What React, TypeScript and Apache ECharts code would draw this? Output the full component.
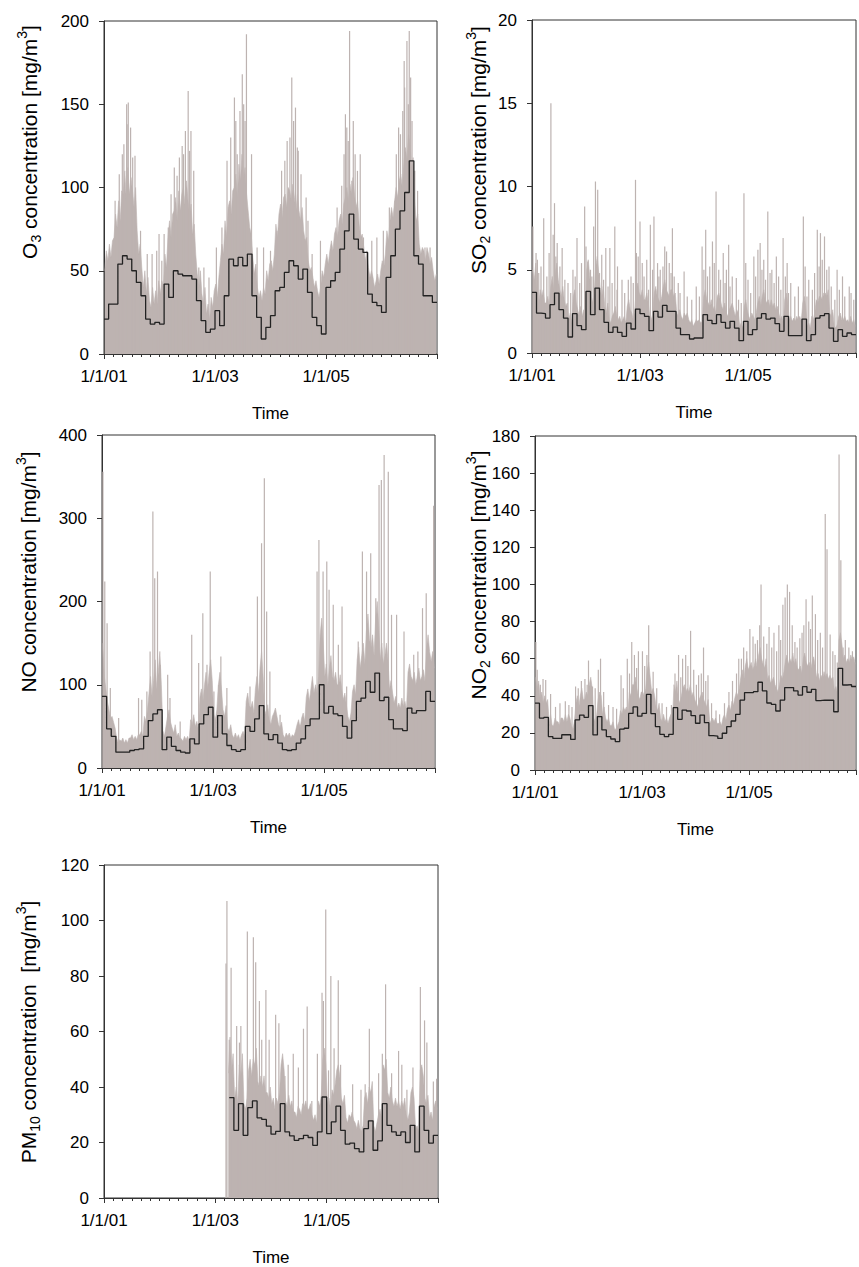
import React, { useEffect, useRef } from 'react';
import * as echarts from 'echarts';

const FONT = 'Liberation Sans';
const GREY = '#bdb3b1';
const LINE = '#222222';
const AXIS = '#333333';

// x axis: months since 1/1/01 (0..72)
const xTickMonths = [0, 24, 48];
const xTickLabels = ['1/1/01', '1/1/03', '1/1/05'];
const xMonthsSpan = 72;

// ---------- O3 ----------
const o3Monthly = [
  21, 30, 30, 54, 59, 57, 50, 43, 35, 21, 18, 19,
  18, 42, 34, 50, 48, 47, 47, 45, 32, 20, 13, 15,
  26, 17, 35, 57, 53, 58, 53, 60, 35, 22, 9, 16,
  23, 38, 40, 49, 56, 53, 45, 51, 37, 22, 17, 12,
  40, 44, 49, 63, 74, 84, 69, 63, 61, 36, 31, 29,
  25, 46, 59, 75, 86, 97, 116, 59, 54, 35, 35, 31,
];
const o3Dekad = [
  50, 62, 56, 66, 58, 68, 70, 84, 76, 92, 80, 98, 96, 110, 92, 112, 96, 106, 98, 88, 100, 74, 60, 66, 52, 40, 50, 36, 46, 32, 28, 40, 30, 38, 30, 44,
  36, 44, 40, 60, 52, 70, 80, 70, 84, 86, 94, 80, 98, 86, 96, 100, 90, 104, 92, 84, 90, 72, 78, 60, 48, 40, 50, 36, 30, 40, 24, 30, 20, 34, 28, 38,
  42, 34, 46, 56, 66, 60, 80, 70, 88, 92, 84, 98, 100, 108, 94, 114, 104, 120, 106, 112, 96, 86, 76, 72, 58, 48, 54, 40, 34, 38, 32, 40, 36, 50, 44, 54,
  56, 50, 60, 78, 70, 84, 90, 82, 94, 96, 88, 100, 98, 92, 102, 94, 86, 96, 86, 80, 88, 74, 68, 70, 56, 50, 52, 46, 40, 44, 38, 34, 40, 50, 46, 54,
  60, 54, 62, 68, 62, 72, 76, 70, 80, 84, 78, 90, 94, 100, 92, 102, 96, 106, 96, 88, 92, 78, 70, 72, 64, 56, 62, 52, 46, 50, 46, 40, 44, 48, 42, 50,
  56, 52, 60, 74, 68, 80, 88, 82, 92, 100, 94, 104, 108, 100, 114, 124, 116, 132, 126, 112, 118, 92, 80, 84, 66, 60, 64, 62, 56, 64, 60, 54, 58, 50, 44, 48,
];
const o3Peaks = [
  [2.4, 92], [3.3, 108], [3.96, 120], [4.3, 126], [4.9, 150], [5.0, 138], [5.25, 151], [5.75, 136], [6.2, 118], [6.7, 119], [7.9, 74], [9.35, 60], [10.4, 60], [11.4, 62], [11.9, 72],
  [12.5, 56], [13.0, 72], [13.9, 76], [14.5, 96], [15.2, 112], [15.8, 107], [16.3, 118], [16.9, 125], [17.2, 120], [17.6, 134], [18.2, 158], [18.5, 122], [18.8, 134], [19.4, 110], [20.5, 52], [21.6, 52], [22.7, 46],
  [24.3, 64], [25.5, 76], [26.6, 116], [27.4, 130], [28.2, 154], [28.5, 140], [28.8, 120], [29.4, 146], [29.9, 168], [30.2, 150], [30.5, 140], [30.8, 192], [31.9, 120], [33.1, 64], [34.5, 64], [36.0, 62],
  [37.4, 74], [38.4, 110], [39.1, 116], [39.6, 128], [40.2, 130], [40.6, 166], [41.0, 140], [41.4, 148], [41.8, 124], [42.0, 122], [42.6, 108], [43.7, 94], [44.1, 80], [45.0, 60], [46.8, 68],
  [50.4, 88], [51.4, 101], [51.9, 120], [52.2, 144], [52.5, 136], [52.8, 128], [53.1, 194], [53.6, 104], [53.9, 140], [54.3, 120], [54.8, 110], [55.4, 120], [56.1, 70], [57.9, 68], [59.0, 70],
  [60.4, 74], [61.7, 88], [62.9, 92], [63.2, 120], [63.7, 136], [64.1, 132], [64.6, 146], [64.9, 176], [65.0, 160], [65.5, 188], [65.8, 150], [66.0, 194], [66.3, 166], [66.6, 140], [67.2, 110], [67.8, 98], [69.4, 64], [70.5, 64],
];

// ---------- SO2 ----------
const so2Monthly = [
  3.64, 2.4, 2.36, 2.1, 2.9, 3.6, 2.6, 2.1, 0.96, 2.36, 1.64, 1.4,
  3.7, 2.3, 3.9, 2.6, 1.84, 1.24, 1.56, 1.24, 1.0, 1.8, 1.44, 2.64,
  2.36, 2.2, 1.34, 2.5, 2.16, 2.86, 2.5, 2.5, 1.5, 1.1, 1.1, 0.84,
  0.9, 0.9, 2.3, 1.96, 1.76, 2.3, 1.84, 1.5, 1.9, 1.5, 0.74, 1.9,
  1.1, 1.4, 2.1, 2.36, 2.04, 2.1, 1.76, 1.3, 2.2, 1.04, 1.04, 1.04,
  2.04, 0.74, 1.1, 2.1, 2.24, 2.36, 1.5, 0.7, 1.4, 1.0, 1.2, 1.1,
];
const so2Dekad = [
  5.0, 4.4, 5.4, 3.6, 3.0, 3.8, 3.4, 3.8, 3.0, 3.0, 3.4, 2.8, 4.0, 4.6, 3.8, 4.8, 5.4, 4.4, 3.8, 3.4, 4.0, 3.2, 2.8, 3.0, 2.0, 2.4, 1.8, 3.4, 3.8, 3.0, 2.6, 2.2, 2.8, 2.2, 2.6, 2.0,
  5.0, 5.6, 4.6, 3.4, 3.0, 3.6, 5.2, 5.8, 4.8, 3.8, 3.4, 4.0, 2.8, 2.4, 3.0, 2.0, 1.8, 2.2, 2.4, 2.8, 2.2, 2.0, 2.2, 1.8, 2.0, 2.2, 1.8, 2.8, 3.2, 2.6, 2.4, 2.0, 2.6, 3.8, 4.2, 3.6,
  3.4, 3.8, 3.2, 3.2, 3.6, 3.0, 2.2, 2.0, 2.4, 3.6, 4.0, 3.4, 3.2, 3.0, 3.4, 4.0, 4.4, 3.8, 3.6, 3.4, 3.8, 3.8, 3.4, 3.6, 2.4, 2.2, 2.6, 2.2, 2.0, 2.4, 2.2, 2.4, 2.0, 1.8, 2.0, 1.6,
  1.8, 2.0, 1.9, 2.0, 1.8, 1.9, 3.4, 3.8, 3.2, 3.0, 2.8, 3.2, 2.6, 2.8, 2.4, 3.4, 3.6, 3.2, 2.8, 2.6, 3.0, 2.4, 2.2, 2.6, 2.8, 3.0, 2.6, 2.2, 2.6, 2.4, 1.6, 1.8, 1.5, 2.8, 3.2, 2.6,
  2.2, 2.0, 2.4, 2.2, 2.0, 2.4, 3.0, 3.4, 2.8, 3.4, 3.8, 3.2, 3.0, 3.2, 2.8, 3.2, 2.8, 3.0, 2.6, 2.8, 2.4, 2.0, 2.2, 1.8, 3.2, 3.6, 3.0, 2.0, 2.2, 1.9, 2.1, 1.9, 2.2, 2.0, 2.2, 1.9,
  3.0, 3.4, 2.8, 1.6, 1.8, 1.5, 2.2, 2.0, 2.4, 3.2, 3.0, 3.4, 3.4, 3.2, 3.6, 3.6, 3.4, 3.8, 2.4, 2.2, 2.6, 1.6, 1.5, 1.7, 2.2, 2.4, 2.0, 2.0, 2.2, 1.9, 2.0, 1.8, 2.2, 1.8, 2.0, 1.6,
];
const so2Peaks = [
  [0.2, 7.6], [0.9, 6.0], [1.2, 5.6], [1.5, 4.8], [2.0, 5.2], [2.6, 8.1], [3.3, 4.6], [3.8, 6.0], [4.2, 15.0], [4.7, 7.1], [5.0, 9.0], [5.3, 5.8], [5.6, 6.6], [6.2, 5.2], [6.7, 6.3], [7.3, 4.4],
  [8.0, 4.2], [8.6, 3.6], [9.1, 5.0], [9.6, 4.6], [10.0, 6.9], [10.6, 4.2], [11.0, 5.4], [11.7, 8.8],
  [12.0, 6.4], [12.4, 5.5], [13.0, 5.0], [13.3, 4.6], [13.7, 7.6], [14.1, 10.3], [14.6, 9.8], [15.0, 4.8], [15.5, 5.9], [15.9, 4.4], [16.4, 6.3], [16.9, 4.0], [17.3, 6.3], [17.8, 4.2],
  [18.4, 7.6], [18.9, 3.8], [19.0, 5.2], [20.0, 4.4], [20.6, 3.6], [21.4, 4.4], [22.0, 4.6], [22.5, 4.2], [23.0, 10.4], [23.2, 6.0], [23.6, 5.8],
  [24.0, 7.9], [24.5, 5.4], [24.9, 4.6], [25.5, 5.6], [25.9, 3.8], [26.3, 7.7], [26.8, 5.0], [27.1, 8.2], [27.9, 5.4], [28.2, 4.6], [28.5, 5.0], [29.1, 5.2], [29.5, 6.4], [29.9, 6.1],
  [30.5, 5.4], [30.9, 4.8], [31.2, 7.5], [31.6, 4.6], [32.5, 4.2], [32.9, 3.6], [33.8, 4.9], [34.5, 3.4], [35.5, 3.2],
  [36.5, 4.0], [37.2, 3.4], [37.8, 6.4], [38.2, 5.0], [38.6, 7.4], [39.0, 4.6], [39.5, 5.2], [40.1, 6.7], [40.5, 5.4], [40.9, 9.7], [41.5, 5.0], [41.9, 4.4], [42.5, 6.0], [42.9, 4.2],
  [43.2, 5.0], [43.7, 6.5], [44.0, 4.0], [44.5, 4.6], [45.4, 4.5], [45.9, 3.2], [46.5, 3.0], [47.1, 9.6], [47.5, 5.4],
  [48.0, 4.4], [48.6, 3.6], [49.3, 5.8], [49.7, 4.6], [50.2, 6.2], [50.7, 6.6], [51.1, 5.0], [51.5, 5.6], [51.9, 4.4], [52.4, 8.5], [52.9, 4.8], [53.3, 5.0], [53.8, 4.2],
  [54.3, 5.8], [54.8, 4.6], [55.3, 3.8], [55.8, 6.9], [56.3, 4.6], [56.7, 5.4], [57.0, 3.6], [57.5, 4.2], [58.4, 3.4], [59.2, 4.0],
  [60.3, 8.2], [60.7, 5.2], [61.1, 3.4], [61.5, 4.4], [62.3, 3.8], [62.8, 4.8], [63.4, 7.4], [63.8, 5.2], [64.1, 7.2], [64.5, 5.6], [65.0, 7.0], [65.5, 5.0], [66.0, 5.2], [66.5, 4.0],
  [67.3, 3.2], [67.8, 5.0], [68.3, 3.8], [69.0, 4.6], [69.5, 3.4], [70.5, 4.0], [70.9, 3.6], [71.5, 3.2],
];

// ---------- NO ----------
const noMonthly = [
  86, 47, 38, 19, 19, 19, 21, 22, 23, 38, 57, 65,
  70, 22, 37, 26, 21, 19, 18, 35, 29, 53, 64, 73,
  37, 63, 41, 27, 22, 20, 22, 50, 44, 59, 75, 41,
  34, 40, 30, 22, 21, 22, 30, 35, 51, 59, 59, 100,
  66, 74, 65, 63, 50, 36, 57, 80, 84, 104, 91, 114,
  81, 85, 58, 47, 47, 45, 72, 66, 69, 69, 92, 80,
];
const noDekad = [
  150, 110, 95, 80, 70, 60, 62, 55, 48, 36, 30, 34, 32, 36, 30, 34, 30, 36, 36, 40, 34, 38, 34, 40, 40, 44, 38, 62, 56, 70, 90, 110, 85, 105, 130, 95,
  115, 140, 100, 45, 38, 50, 62, 70, 55, 48, 42, 52, 38, 42, 36, 35, 32, 38, 34, 38, 32, 58, 52, 64, 50, 56, 46, 85, 95, 80, 100, 115, 95, 115, 130, 105,
  65, 58, 70, 100, 115, 95, 70, 62, 75, 48, 44, 52, 40, 36, 42, 36, 40, 34, 40, 44, 38, 80, 90, 75, 72, 80, 66, 95, 110, 90, 120, 140, 110, 70, 64, 76,
  58, 52, 62, 66, 72, 62, 52, 48, 55, 40, 36, 42, 38, 42, 36, 40, 38, 44, 52, 58, 48, 60, 66, 56, 85, 95, 80, 95, 110, 90, 100, 90, 110, 160, 180, 150,
  110, 125, 100, 120, 135, 110, 105, 115, 100, 100, 112, 95, 82, 90, 76, 62, 56, 66, 92, 100, 88, 130, 145, 120, 135, 150, 125, 165, 185, 155, 145, 160, 135, 180, 200, 170,
  130, 150, 125, 135, 150, 130, 95, 105, 90, 78, 86, 72, 78, 72, 84, 74, 80, 70, 115, 125, 110, 105, 115, 100, 110, 120, 105, 110, 118, 104, 145, 160, 140, 128, 140, 120,
];
const noPeaks = [
  [0.2, 356], [0.6, 224], [1.1, 174], [1.8, 96], [3.6, 60], [7.9, 84], [8.6, 82], [9.7, 92], [10.4, 140], [11.0, 308], [11.4, 228],
  [12.0, 236], [12.6, 124], [14.2, 112], [14.7, 84], [16.9, 56], [19.4, 160], [20.9, 126], [21.8, 186], [22.7, 124], [23.4, 236],
  [24.2, 92], [25.2, 100], [25.7, 134], [27.0, 96], [32.0, 98], [33.6, 206], [34.5, 270], [35.1, 348], [35.6, 188],
  [36.3, 116], [38.5, 64], [42.8, 52], [45.5, 68], [46.5, 236], [46.9, 274], [47.8, 236],
  [48.6, 248], [49.1, 214], [50.0, 196], [51.1, 148], [51.9, 194], [52.9, 98], [55.4, 152], [56.3, 260], [57.2, 236], [58.1, 258], [59.2, 204], [59.9, 340],
  [60.4, 346], [61.0, 376], [61.9, 356], [62.6, 184], [63.7, 184], [65.3, 164], [67.4, 136], [68.3, 140], [69.3, 192], [70.1, 210], [71.7, 315],
];

// ---------- NO2 ----------
const no2Monthly = [
  36, 28, 28.4, 18, 17, 17, 19, 19, 16.5, 27, 29.6, 28.4,
  34.7, 18.9, 28.8, 21.6, 18, 16.7, 15.3, 22, 22.5, 30.5, 34, 29,
  30.5, 40.8, 30.4, 23.4, 19.2, 18, 19.2, 33.6, 27.3, 32.3, 31.8, 29.3,
  25.2, 29.6, 25.5, 18.5, 18.3, 17, 19.8, 23.4, 26.4, 30, 37.7, 41.7,
  41.7, 42.2, 47.3, 42.6, 36.1, 35.4, 31.8, 37.7, 44.4, 44.4, 42.6, 40.4,
  44.9, 41.9, 43.5, 37.4, 37.7, 37.6, 37.6, 31.4, 54.8, 45.8, 46, 45,
];
const no2Dekad = [
  50, 44, 48, 38, 42, 36, 40, 36, 38, 26, 30, 24, 24, 28, 26, 26, 24, 28, 28, 26, 30, 26, 30, 28, 24, 22, 26, 36, 40, 34, 40, 44, 38, 38, 42, 40,
  46, 50, 44, 28, 26, 30, 38, 42, 40, 30, 34, 28, 26, 28, 24, 24, 26, 22, 22, 24, 26, 32, 30, 34, 32, 34, 30, 42, 40, 46, 46, 50, 44, 40, 38, 42,
  42, 40, 44, 54, 58, 50, 42, 44, 40, 34, 32, 36, 28, 26, 30, 26, 28, 25, 28, 30, 26, 46, 42, 48, 38, 36, 40, 44, 46, 42, 44, 42, 46, 40, 42, 38,
  36, 34, 38, 40, 42, 38, 36, 34, 38, 27, 25, 28, 26, 28, 25, 25, 26, 24, 28, 30, 27, 33, 35, 32, 37, 35, 39, 42, 40, 44, 50, 54, 48, 56, 60, 54,
  56, 58, 54, 56, 60, 55, 62, 66, 60, 57, 55, 60, 49, 51, 47, 48, 50, 46, 44, 42, 46, 51, 49, 53, 59, 62, 57, 60, 58, 63, 57, 60, 55, 54, 56, 52,
  60, 63, 58, 56, 58, 54, 58, 61, 56, 50, 52, 48, 51, 49, 53, 50, 52, 49, 51, 49, 50, 43, 45, 41, 70, 74, 68, 60, 62, 58, 60, 58, 62, 59, 61, 57,
];
const no2Peaks = [
  [0.2, 69], [0.5, 54], [1.2, 46], [1.8, 49], [2.4, 48.5], [3.5, 41], [4.6, 34], [5.6, 36], [6.8, 37], [7.6, 35], [8.3, 34], [9.1, 45], [9.7, 44], [10.4, 48], [11.2, 49], [11.7, 46],
  [12.0, 59], [12.9, 45], [13.5, 44], [14.2, 54], [14.7, 60], [15.4, 42], [16.5, 35], [17.5, 34], [18.3, 33], [19.3, 51], [19.8, 44], [20.7, 60], [21.2, 52], [21.7, 69], [22.3, 62], [22.8, 55], [23.2, 64],
  [24.1, 64], [24.6, 56], [25.1, 62], [25.5, 78], [26.5, 53], [27.3, 44], [28.5, 36], [29.5, 34], [30.6, 35], [31.4, 52], [32.2, 62], [32.7, 50], [33.1, 60], [33.8, 62], [34.3, 56], [34.9, 75], [35.6, 54],
  [36.2, 46], [36.7, 51], [37.3, 52], [37.8, 66], [38.3, 48], [38.8, 51], [39.6, 36], [40.6, 32], [41.4, 30], [42.5, 36], [43.5, 42], [44.3, 48], [45.2, 52], [45.7, 60], [46.3, 60], [46.8, 66], [47.5, 64],
  [48.2, 76], [48.9, 72], [49.4, 68], [49.9, 70], [50.4, 78], [50.7, 100], [51.3, 72], [52.0, 68], [52.5, 77], [53.1, 66], [53.6, 74], [54.2, 64], [54.7, 78], [55.1, 70], [55.6, 89], [56.1, 93], [56.6, 100],
  [57.1, 96], [57.7, 78], [58.3, 69], [58.8, 66], [59.4, 71], [59.9, 74],
  [60.3, 78], [60.8, 92], [61.4, 80], [61.8, 76], [62.2, 94], [62.9, 84], [63.4, 70], [64.0, 74], [64.5, 66], [65.1, 138], [65.5, 119], [66.2, 73], [66.8, 64], [67.3, 62], [67.8, 58],
  [68.2, 170], [68.6, 113], [69.1, 66], [69.6, 70], [70.4, 66], [71.2, 64],
];

// ---------- PM10 (measurements start spring 2003) ----------
const pm10MonthStart = 27;
const pm10Monthly = [
  36.2, 24.4, 34.0, 22.6, 32.6, 35.0, 28.9, 28.3, 25.9,
  23.0, 24.0, 34.0, 23.8, 22.4, 20.8, 21.4, 22.6, 21.8, 19.0, 23.8, 36.4,
  23.2, 27.4, 33.1, 24.4, 19.4, 19.8, 17.8, 16.6, 25.0, 27.8, 17.2, 20.6,
  34.0, 26.2, 23.8, 22.6, 23.8, 20.0, 26.2, 16.6, 33.1, 24.4, 19.8, 22.6,
];
const pm10DekadStart = 80;
const pm10Dekad = [
  45,
  58, 46, 52, 36, 40, 34, 48, 44, 52, 34, 32, 36, 46, 50, 44, 50, 48, 54, 42, 40, 44, 40, 44, 38, 38, 36, 40,
  34, 36, 32, 36, 34, 38, 48, 52, 46, 35, 33, 37, 33, 35, 31, 31, 29, 33, 32, 30, 34, 33, 35, 32, 32, 34, 30, 28, 30, 27, 35, 33, 37, 50, 54, 48,
  34, 36, 32, 39, 37, 41, 46, 48, 44, 36, 34, 37, 29, 27, 30, 29, 31, 28, 27, 25, 28, 25, 24, 26, 36, 38, 34, 40, 38, 42, 26, 24, 27, 30, 32, 29,
  48, 46, 50, 38, 36, 40, 35, 33, 36, 33, 35, 32, 35, 33, 36, 30, 28, 31, 38, 40, 36, 25, 26, 24, 46, 48, 44, 36, 34, 37, 29, 31, 28, 33, 35, 32,
];
const pm10Peaks = [
  [26.3, 84.5], [26.5, 107], [27.0, 57], [27.4, 83], [28.6, 62], [29.2, 56], [29.5, 62], [30.9, 96], [32.2, 94], [32.7, 85], [33.5, 71], [34.0, 57], [34.9, 75], [35.6, 57],
  [37.0, 66], [37.7, 63], [39.0, 44], [39.7, 48], [40.8, 52], [41.9, 47], [43.0, 61], [43.8, 69], [44.8, 35], [46.0, 52], [47.0, 74], [47.3, 71], [47.8, 104],
  [48.4, 46], [48.9, 80], [49.6, 54], [50.5, 78.5], [51.0, 48], [53.6, 41], [55.4, 39], [56.3, 41], [57.2, 61], [59.2, 45],
  [60.0, 52], [60.7, 77], [62.0, 45], [63.5, 53], [64.2, 48], [65.3, 39], [66.6, 47], [68.2, 76], [69.1, 64], [69.6, 56], [71.0, 42], [71.7, 43],
];

const richStyle = {
  n: { fontFamily: FONT, fontSize: 21, lineHeight: 28, fill: '#000', verticalAlign: 'middle' },
  sub: { fontFamily: FONT, fontSize: 14, lineHeight: 14, fill: '#000', verticalAlign: 'bottom' },
  sup: { fontFamily: FONT, fontSize: 14, lineHeight: 14, fill: '#000', verticalAlign: 'top' },
};

const panels = [
  {
    title: '{n|O}{sub|3}{n| concentration [mg/m}{sup|3}{n|]}', tx: 29, ty: 142,
    grid: { left: 104, top: 21, width: 333, height: 333 }, yMax: 200, yInt: 50,
    monthly: o3Monthly, mStart: 0, dekad: o3Dekad, dStart: 0, peaks: o3Peaks,
  },
  {
    title: '{n|SO}{sub|2}{n| concentration [mg/m}{sup|3}{n|]}', tx: 478, ty: 150,
    grid: { left: 532, top: 20, width: 334, height: 333 }, yMax: 20, yInt: 5,
    monthly: so2Monthly, mStart: 0, dekad: so2Dekad, dStart: 0, peaks: so2Peaks,
  },
  {
    title: '{n|NO concentration [mg/m}{sup|3}{n|]}', tx: 28, ty: 572,
    grid: { left: 102, top: 435, width: 333, height: 333 }, yMax: 400, yInt: 100,
    monthly: noMonthly, mStart: 0, dekad: noDekad, dStart: 0, peaks: noPeaks,
  },
  {
    title: '{n|NO}{sub|2}{n| concentration [mg/m}{sup|3}{n|]}', tx: 478, ty: 575,
    grid: { left: 535, top: 436, width: 334, height: 334 }, yMax: 180, yInt: 20,
    monthly: no2Monthly, mStart: 0, dekad: no2Dekad, dStart: 0, peaks: no2Peaks,
  },
  {
    title: '{n|PM}{sub|10}{n| concentration  [mg/m}{sup|3}{n|]}', tx: 28, ty: 1032,
    grid: { left: 104, top: 865, width: 334, height: 333 }, yMax: 120, yInt: 20,
    monthly: pm10Monthly, mStart: pm10MonthStart, dekad: pm10Dekad, dStart: pm10DekadStart, peaks: pm10Peaks,
  },
];

function buildOption() {
  const grid: any[] = [];
  const xAxis: any[] = [];
  const yAxis: any[] = [];
  const series: any[] = [];
  const graphic: any[] = [];

  panels.forEach((p, i) => {
    grid.push({ ...p.grid, show: true, borderColor: AXIS, borderWidth: 1, backgroundColor: 'transparent', containLabel: false });
    xAxis.push({
      type: 'value', gridIndex: i, min: 0, max: xMonthsSpan, interval: 24,
      axisLine: { show: true, onZero: false, lineStyle: { color: AXIS, width: 1 } },
      axisTick: { show: true, length: 5, lineStyle: { color: AXIS } },
      minorTick: { show: true, splitNumber: 12, length: 3, lineStyle: { color: AXIS } },
      splitLine: { show: false }, minorSplitLine: { show: false },
      axisLabel: {
        margin: 14, fontFamily: FONT, fontSize: 17, color: '#000',
        formatter: (v: number) => { const k = xTickMonths.indexOf(v); return k >= 0 ? xTickLabels[k] : ''; },
      },
      name: 'Time', nameLocation: 'middle', nameGap: 51,
      nameTextStyle: { fontFamily: FONT, fontSize: 17, fontWeight: 'normal', color: '#000' },
    });
    yAxis.push({
      type: 'value', gridIndex: i, min: 0, max: p.yMax, interval: p.yInt,
      axisLine: { show: true, lineStyle: { color: AXIS, width: 1 } },
      axisTick: { show: true, length: 5, lineStyle: { color: AXIS } },
      splitLine: { show: false },
      axisLabel: { margin: 15, fontFamily: FONT, fontSize: 17, color: '#000' },
    });
    series.push({
      type: 'line', xAxisIndex: i, yAxisIndex: i, silent: true, z: 1,
      symbol: 'none', showSymbol: false,
      lineStyle: { width: 0.6, color: GREY },
      areaStyle: { color: GREY, opacity: 1 },
      data: p.dekad.map((v, k) => [(p.dStart + k + 0.5) / 3, v]),
    });
    series.push({
      type: 'bar', xAxisIndex: i, yAxisIndex: i, silent: true, z: 2,
      barWidth: 1.2, itemStyle: { color: GREY },
      data: p.peaks.map((d) => [d[0], d[1]]),
    });
    const m = p.monthly.map((v, k) => [p.mStart + k, v]);
    m.push([p.mStart + p.monthly.length, p.monthly[p.monthly.length - 1]]);
    series.push({
      type: 'line', xAxisIndex: i, yAxisIndex: i, silent: true, z: 3, step: 'end',
      symbol: 'none', showSymbol: false,
      lineStyle: { width: 1.3, color: LINE },
      data: m,
    });
    graphic.push({
      type: 'text', x: p.tx, y: p.ty, rotation: Math.PI / 2, silent: true,
      style: { text: p.title, rich: richStyle, align: 'center', verticalAlign: 'middle', fontFamily: FONT, fontSize: 21, fill: '#000' },
    });
  });

  return { animation: false, backgroundColor: '#fff', grid, xAxis, yAxis, series, graphic };
}

export default function App() {
  const ref = useRef<HTMLDivElement>(null);
  useEffect(() => {
    if (!ref.current) return;
    const chart = echarts.init(ref.current, undefined, { renderer: 'svg' });
    chart.setOption(buildOption() as any);
    return () => chart.dispose();
  }, []);
  return <div ref={ref} style={{ position: 'absolute', left: 0, top: 0, width: 859, height: 1267, background: '#fff' }} />;
}
